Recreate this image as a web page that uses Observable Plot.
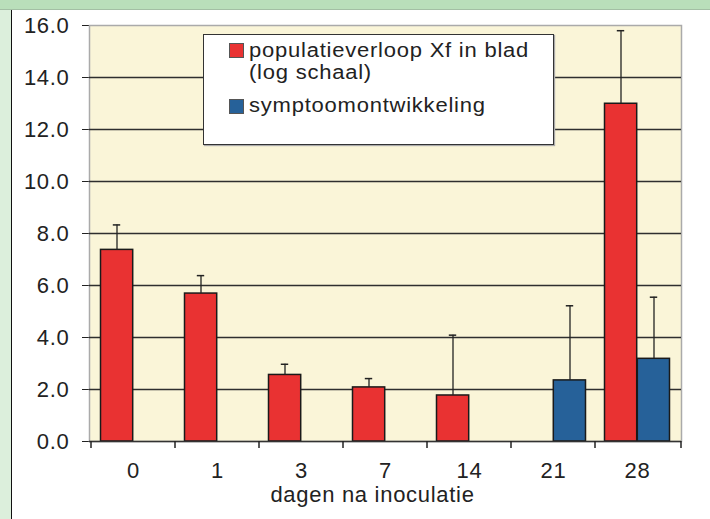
<!DOCTYPE html>
<html><head><meta charset="utf-8">
<script src="https://cdn.jsdelivr.net/npm/d3@7"></script>
<script src="https://cdn.jsdelivr.net/npm/@observablehq/plot@0.6"></script>
<style>
html,body{margin:0;padding:0;background:#fff;width:710px;height:519px;overflow:hidden;}
#wrap{position:relative;width:710px;height:519px;font-family:"Liberation Sans",Arial,sans-serif;}
.topband{position:absolute;left:0;top:0;width:710px;height:9px;background:#b9dfba;border-bottom:1px solid #a3bfa4;}
.leftband{position:absolute;left:0;top:10px;width:11px;height:509px;background:#dcefdc;border-right:1.5px solid #111;}
#chart{position:absolute;left:0;top:0;}
#chart svg text{letter-spacing:0.7px;}
.legend{position:absolute;left:203px;top:34px;width:349px;height:109px;background:#fff;border:1.5px solid #333;box-shadow:1px 1px 1px #aaa;font-size:20px;letter-spacing:0.7px;color:#222;}
.sw{position:absolute;width:13px;height:13px;border:1px solid #555;}
.lt{position:absolute;line-height:22px;white-space:nowrap;transform:scaleX(1.1);transform-origin:0 50%;}
</style></head>
<body>
<div id="wrap">
  <div class="topband"></div>
  <div class="leftband"></div>
  <div id="chart"></div>
  <div class="legend">
    <div class="sw" style="left:24.5px;top:7.5px;background:#e93232"></div>
    <div class="lt" style="left:44.5px;top:3.5px">populatieverloop Xf in blad</div>
    <div class="lt" style="left:44.5px;top:26px">(log schaal)</div>
    <div class="sw" style="left:24.5px;top:63.5px;background:#266199"></div>
    <div class="lt" style="left:44.5px;top:58.5px">symptoomontwikkeling</div>
  </div>
</div>
<script>
const days = ["0", "1", "3", "7", "14", "21", "28"];
const populatie   = [7.37, 5.69, 2.56, 2.08, 1.77, null, 12.99];
const populatieSD = [0.96, 0.69, 0.41, 0.34, 2.32, null, 2.81];
const symptoom    = [null, null, null, null, null, 2.35, 3.18];
const symptoomSD  = [null, null, null, null, null, 2.87, 2.37];
const yTicks = [0, 2, 4, 6, 8, 10, 12, 14, 16];
const gridTicks = [2, 4, 6, 8, 10, 12, 14];
const xLabel = "dagen na inoculatie";

const popRows = days.map((d, i) => ({day: d, value: populatie[i], sd: populatieSD[i]})).filter(r => r.value != null);
const symRows = days.map((d, i) => ({day: d, value: symptoom[i], sd: symptoomSD[i]})).filter(r => r.value != null);

const red = "#e93232", blue = "#266199", ink = "#222";

const boundaryTicks = (index, scales, values, dimensions) => {
  const x = scales.x, y = scales.y;
  const edges = days.map(d => x(d)).concat([dimensions.width - dimensions.marginRight]);
  const y0 = y(0);
  const g = d3.create("svg:g");
  g.selectAll("line").data(edges).join("line")
    .attr("x1", e => e).attr("x2", e => e)
    .attr("y1", y0).attr("y2", y0 + 7)
    .attr("stroke", ink).attr("stroke-width", 1.5);
  return g.node();
};

const chart = Plot.plot({
  width: 710,
  height: 519,
  marginLeft: 89,
  marginRight: 29,
  marginTop: 25,
  marginBottom: 78,
  style: {fontSize: "22px", fontFamily: "'Liberation Sans', Arial, sans-serif", color: ink, background: "transparent"},
  x: {domain: days, padding: 0, tickSize: 0, tickPadding: 21, label: null},
  y: {domain: [0, 16], ticks: yTicks, tickFormat: d => d.toFixed(1), tickSize: 7, tickPadding: 13, line: true, label: null},
  marks: [
    Plot.frame({fill: "#faf5d8", stroke: "#aaa", strokeWidth: 1.5}),
    Plot.ruleY(gridTicks, {stroke: "#2e2e2e", strokeWidth: 1.3}),
    Plot.barY(popRows, {x: "day", y: "value", fill: red, stroke: "#1a1a1a", strokeWidth: 1.5, insetLeft: 9.5, insetRight: 42.3}),
    Plot.barY(symRows, {x: "day", y: "value", fill: blue, stroke: "#1a1a1a", strokeWidth: 1.5, insetLeft: 42.3, insetRight: 9.5}),
    Plot.ruleX(popRows, {x: "day", y1: "value", y2: d => d.value + d.sd, dx: -16.5, stroke: ink, strokeWidth: 1.3}),
    Plot.tickY(popRows, {x: "day", y: d => d.value + d.sd, insetLeft: 21.8, insetRight: 54.8, stroke: ink, strokeWidth: 1.5}),
    Plot.ruleX(symRows, {x: "day", y1: "value", y2: d => d.value + d.sd, dx: 16.5, stroke: ink, strokeWidth: 1.3}),
    Plot.tickY(symRows, {x: "day", y: d => d.value + d.sd, insetLeft: 54.8, insetRight: 21.8, stroke: ink, strokeWidth: 1.5}),
    Plot.ruleY([0], {stroke: "#333", strokeWidth: 1.5}),
    boundaryTicks,
    Plot.text([xLabel], {frameAnchor: "bottom", dy: 60, dx: -13, fontSize: 22, fill: ink})
  ]
});
document.getElementById("chart").appendChild(chart);
</script>
</body></html>
